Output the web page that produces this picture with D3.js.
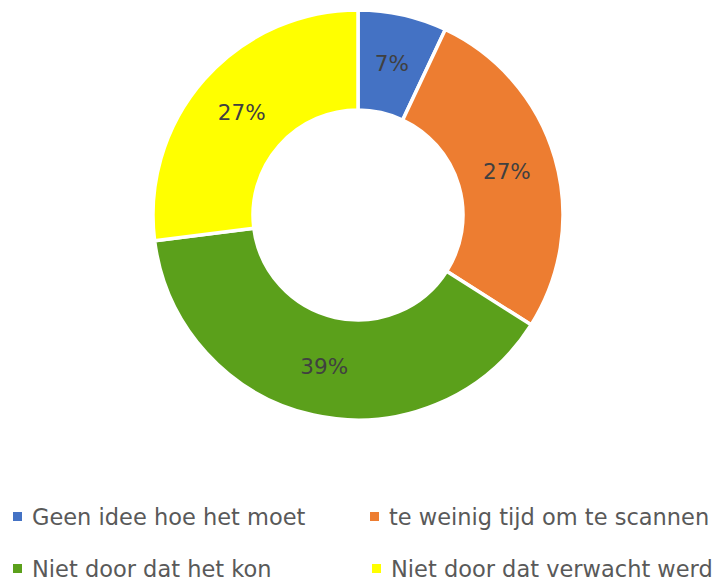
<!DOCTYPE html>
<html>
<head>
<meta charset="utf-8">
<script src="https://cdn.jsdelivr.net/npm/d3@7"></script>
<style>
  body { margin: 0; background: #fff; }
  svg text { font-family: "DejaVu Sans", sans-serif; }
</style>
</head>
<body>
<svg id="chart" width="721" height="581"></svg>
<script>
var categories = ["Geen idee hoe het moet", "te weinig tijd om te scannen", "Niet door dat het kon", "Niet door dat verwacht werd"];
var values = [7, 27, 39, 27];
var colors = ["#4472C4", "#ED7D31", "#5BA01B", "#FFFF00"];

var data = categories.map(function(c, i) { return {name: c, value: values[i], color: colors[i]}; });

var cx = 358, cy = 215,
    outerR = 205, innerR = 105;

var svg = d3.select("#chart");

var pie = d3.pie().value(function(d) { return d.value; }).sort(null);
var arc = d3.arc().innerRadius(innerR).outerRadius(outerR);

var g = svg.append("g").attr("transform", "translate(" + cx + "," + cy + ")");

var slices = g.selectAll("g.slice")
  .data(pie(data))
  .enter()
  .append("g")
  .attr("class", "slice");

slices.append("path")
  .attr("d", arc)
  .attr("fill", function(d) { return d.data.color; })
  .attr("stroke", "#fff")
  .attr("stroke-width", 3.5);

slices.append("text")
  .attr("transform", function(d) { return "translate(" + arc.centroid(d) + ")"; })
  .attr("text-anchor", "middle")
  .attr("dy", "0.35em")
  .attr("font-size", "21.5px")
  .attr("fill", "#404040")
  .text(function(d) { return d.data.value + "%"; });

// legend
var legendPos = [[13, 517], [370, 517], [13, 569], [372, 569]];
var legend = svg.selectAll("g.legend")
  .data(data)
  .enter()
  .append("g")
  .attr("class", "legend")
  .attr("transform", function(d, i) { return "translate(" + legendPos[i][0] + "," + legendPos[i][1] + ")"; });

legend.append("rect")
  .attr("x", 0)
  .attr("y", -5)
  .attr("width", 9)
  .attr("height", 9)
  .attr("fill", function(d) { return d.color; });

legend.append("text")
  .attr("x", 19)
  .attr("dy", "0.35em")
  .attr("font-size", "22.5px")
  .attr("fill", "#595959")
  .text(function(d) { return d.name; });
</script>
</body>
</html>
